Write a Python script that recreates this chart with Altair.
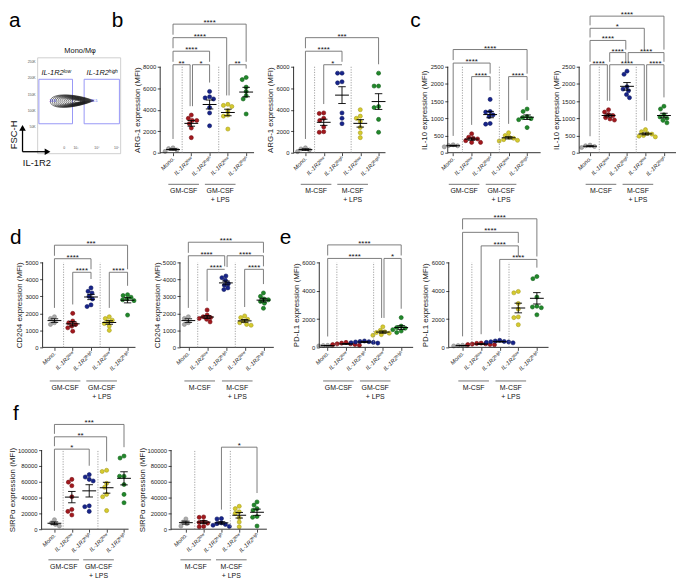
import altair as alt
import pandas as pd

FONT = "Liberation Sans"

# ----------------------------- data ---------------------------------
# group order in every panel: Mono., IL-1R2 low, IL-1R2 high, IL-1R2 low (+LPS), IL-1R2 high (+LPS)
ARG1_GM = [[120, 250, 380, 450],
           [3500, 3200, 3000, 3000, 2700, 2300, 1400],
           [5700, 5200, 5100, 5000, 4200, 3700, 2500],
           [4500, 4400, 4300, 3900, 3500, 3400, 2200],
           [7000, 6800, 6100, 5700, 5300, 5000, 3600]]
ARG1_M = [[100, 250, 350, 450],
          [3700, 3650, 3200, 3000, 2400, 1950, 1900],
          [7400, 7400, 6600, 6500, 3700, 3200, 2700],
          [4000, 3400, 3200, 2900, 2350, 1850, 1400],
          [7400, 6200, 6200, 4300, 4200, 3100, 1900]]
IL10_GM = [[170, 200, 230, 210],
           [550, 450, 420, 400, 350, 300, 300],
           [1550, 1200, 1180, 1100, 1050, 850, 830],
           [580, 500, 450, 420, 380, 360, 340],
           [1270, 1200, 1050, 1020, 990, 960, 730]]
IL10_M = [[150, 180, 220, 200],
          [1250, 1180, 1110, 1080, 1020, 980, 950],
          [2370, 2280, 1920, 1850, 1800, 1690, 1600],
          [670, 610, 560, 540, 500, 480, 460],
          [1350, 1270, 1100, 1040, 1000, 940, 870]]
CD204_GM = [[1800, 1700, 1450, 1350],
            [2000, 1550, 1450, 1350, 1250, 1150, 950],
            [3500, 3300, 3200, 3000, 2850, 2500, 2400],
            [1800, 1700, 1600, 1500, 1400, 1250, 1000],
            [3100, 3050, 2950, 2850, 2800, 2750, 1900]]
CD204_M = [[1800, 1700, 1450, 1350],
           [2200, 1900, 1800, 1750, 1700, 1650, 1500],
           [4200, 4100, 3950, 3750, 3650, 3500, 3400],
           [1850, 1750, 1650, 1550, 1450, 1350, 1300],
           [3200, 3000, 2850, 2800, 2700, 2600, 2300]]
PDL1_GM = [[100, 120, 140, 130],
           [350, 300, 250, 250, 200, 200, 150],
           [450, 420, 400, 380, 350, 330, 300],
           [1450, 1200, 1100, 1050, 1000, 900, 850],
           [2100, 1500, 1400, 1350, 1250, 1150, 1050]]
PDL1_M = [[100, 130, 150, 120],
          [300, 280, 250, 230, 200, 200, 180],
          [500, 450, 420, 400, 380, 350, 320],
          [3950, 3850, 3100, 2700, 2150, 2100, 1600],
          [5000, 4850, 3550, 2900, 2850, 2800, 2300]]
SIRPA_GM = [[12000, 8000, 6000, 4000],
            [63000, 59500, 55000, 41000, 25000, 22500, 18000],
            [69000, 66000, 63000, 61000, 29500, 28500, 22500],
            [74500, 73000, 58000, 53000, 44000, 41000, 23500],
            [92500, 90000, 67000, 67000, 56500, 44000, 33500]]
SIRPA_M = [[13000, 9000, 7000, 4000],
           [15500, 15000, 9500, 8500, 7500, 3500, 3000],
           [13500, 13000, 8000, 7000, 6000, 5000, 3500],
           [29000, 26000, 22000, 20000, 14500, 9000, 3000],
           [34500, 30500, 26000, 24000, 16000, 15000, 4000]]

# significance comparisons: (group a, group b, label, stacking level)
BR_ARG1_GM = [(0, 4, "****", 3), (0, 3, "****", 2), (0, 2, "****", 1),
              (0, 1, "**", 0), (1, 2, "*", 0), (3, 4, "**", 0)]
BR_ARG1_M = [(0, 4, "***", 2), (0, 2, "****", 1), (1, 2, "*", 0)]
BR_IL10_GM = [(0, 4, "****", 2), (0, 2, "****", 1), (1, 2, "****", 0), (3, 4, "****", 0)]
BR_IL10_M = [(0, 4, "****", 4), (0, 3, "*", 3), (0, 2, "****", 2), (1, 2, "****", 1),
             (2, 4, "****", 1), (0, 1, "****", 0), (1, 3, "****", 0), (3, 4, "****", 0)]
BR_CD204_GM = [(0, 4, "***", 2), (0, 2, "****", 1), (1, 2, "****", 0), (3, 4, "****", 0)]
BR_CD204_M = [(0, 4, "****", 2), (0, 2, "****", 1), (2, 4, "****", 1),
              (1, 2, "****", 0), (3, 4, "****", 0)]
BR_PDL1_GM = [(0, 4, "****", 1), (0, 3, "****", 0), (3, 4, "*", 0)]
BR_PDL1_M = [(0, 4, "****", 3), (0, 3, "****", 2), (1, 3, "****", 1), (2, 4, "****", 0)]
BR_SIRPA_GM = [(0, 4, "***", 2), (0, 3, "**", 1), (0, 2, "*", 0)]
BR_SIRPA_M = [(2, 4, "*", 0)]

TICK_LABELS = ["Mono.", "IL-1R2ˡᵒʷ", "IL-1R2ʰⁱᵍʰ", "IL-1R2ˡᵒʷ", "IL-1R2ʰⁱᵍʰ"]
COND_GM = ["GM-CSF", "GM-CSF\n+ LPS"]
COND_M = ["M-CSF", "M-CSF\n+ LPS"]

# flow cytometry panel (a): x = IL-1R2 display channel (0-1000), y = FSC-H (K)
FLOW_GATES_X1 = [15, 560]
FLOW_GATES_X2 = [420, 985]
FLOW_GATE_Y = [60, 197]
FLOW_GATE_NAMES = ["IL-1R2ˡᵒʷ", "IL-1R2ʰⁱᵍʰ"]
FLOW_GATE_PCT = ["24.6", "74.5"]
FLOW_RING_X = [415, 420, 425, 430, 436, 442, 448, 454, 460, 466, 472, 478, 484]
FLOW_RING_W = [44, 41, 38, 35, 32, 29, 26, 23, 20, 17, 14, 11, 7]
FLOW_Y_TICKS = [50, 100, 150, 200, 250]
FLOW_X_TICKS = [321, 461, 714, 952]
FLOW_X_LABELS = ["0", "10³", "10⁴", "10⁵"]

# ----------------------------- style / layout -----------------------
VW, VH = 685, 581
GKEYS = ["g0", "g1", "g2", "g3", "g4"]
FILL = ["#ababab", "#a3181d", "#17248c", "#d6cb2e", "#20892a"]
EDGE = ["#858585", "#741015", "#0e175e", "#a69d1e", "#16611d"]
BR_COLOR = "#6e6e6e"
AX_COLOR = "#1a1a1a"

ROW1 = dict(top=64, bot=151, step=13.7, under=32)
ROW2 = dict(top=262, bot=348, step=13.7, under=34)
ROW3 = dict(top=452, bot=532, step=12.5, under=31)
G = {
    "bL": dict(axis=162, first=175, sp=18.5, end=257, lift=2),
    "bR": dict(axis=297, first=309, sp=18.5, end=390, lift=2),
    "cL": dict(axis=453, first=458.5, sp=18.7, end=547, lift=-10),
    "cR": dict(axis=586, first=597, sp=18.7, end=684, lift=2, step=12.3),
    "dL": dict(axis=43, first=55, sp=18.5, end=137, lift=-10),
    "dR": dict(axis=182, first=190.5, sp=19.0, end=277, lift=-7),
    "eL": dict(axis=323, first=331.5, sp=18.6, end=418, lift=4),
    "eR": dict(axis=454, first=468, sp=18.8, end=555, lift=3),
    "fL": dict(axis=42, first=55, sp=17.6, end=130, lift=1),
    "fR": dict(axis=173, first=188, sp=18.0, end=270, lift=3),
}


def swarm_offsets(vals, py, diam=4.3, step=0.5, maxoff=14.0):
    order = sorted(range(len(vals)), key=lambda i: -vals[i])
    cands = [0.0]
    c = step
    while c <= maxoff:
        cands += [-c, c]
        c += step
    placed, offs = [], [0.0] * len(vals)
    for i in order:
        y = vals[i] * py
        for o in cands:
            if all((o - px) ** 2 + (y - pyy) ** 2 >= diam ** 2 for px, pyy in placed):
                offs[i] = o
                break
        placed.append((offs[i], y))
    return offs


def dot_panel(values, ymax, yticks, ytitle, geo, row, brackets, cond, letter=None):
    sp, first = geo["sp"], geo["first"]
    top, bot = row["top"], row["bot"]
    k = ymax / (bot - top)          # data units per pixel
    py = 1.0 / k
    step = geo.get("step", row["step"])

    rows = []
    for gi, vals in enumerate(values):
        for v, o in zip(vals, swarm_offsets(vals, py)):
            rows.append({"x": gi + o / sp, "y": v, "grp": GKEYS[gi]})
    pts = pd.DataFrame(rows)

    srows = []
    for gi, vals in enumerate(values):
        n = len(vals)
        m = sum(vals) / n
        sd = (sum((v - m) ** 2 for v in vals) / (n - 1)) ** 0.5
        se = sd / n ** 0.5
        srows.append({"g": gi, "m": m, "lo": m - se, "hi": m + se,
                      "ml": gi - 7.0 / sp, "mr": gi + 7.0 / sp,
                      "cl": gi - 3.8 / sp, "cr": gi + 3.8 / sp})
    summ = pd.DataFrame(srows)

    xs = alt.Scale(domain=[-first / sp, (VW - first) / sp], nice=False, zero=False)
    ys = alt.Scale(domain=[-(VH - bot) * k, ymax + top * k], nice=False, zero=False)
    label_expr = "[" + ",".join("'" + t + "'" for t in TICK_LABELS) + "][datum.value]"
    xaxis = alt.Axis(orient="bottom", offset=-(VH - bot), domain=False, values=[0, 1, 2, 3, 4],
                     labelExpr=label_expr, labelAngle=315, labelAlign="right", labelBaseline="middle",
                     labelFontStyle="italic", title=None, labelPadding=1.5,
                     labelOverlap=False, labelFlush=False, labelBound=False)
    tx = -25 if ymax >= 10000 else -19
    yaxis = alt.Axis(orient="left", offset=-geo["axis"], domain=False, values=yticks, title=ytitle,
                     titleX=tx, titleY=(top + bot) / 2, titleAngle=270, titleAlign="center",
                     titleBaseline="bottom", format="d", labelOverlap=False, labelFlush=False,
                     labelBound=False)

    def X(f):
        return alt.X(f, scale=xs, title=None)

    def Y(f):
        return alt.Y(f, scale=ys, title=ytitle)

    layers = []
    layers.append(alt.Chart(pts).mark_circle(size=17, opacity=1, strokeWidth=0.6).encode(
        x=alt.X("x:Q", scale=xs, axis=xaxis),
        y=alt.Y("y:Q", scale=ys, axis=yaxis),
        fill=alt.Fill("grp:N", scale=alt.Scale(domain=GKEYS, range=FILL), legend=None),
        stroke=alt.Stroke("grp:N", scale=alt.Scale(domain=GKEYS, range=EDGE), legend=None)))
    # axis lines of this panel
    xa = (geo["axis"] - first) / sp
    xe = (geo["end"] - first) / sp
    axl = pd.DataFrame({"x": [xa], "x2": [xe], "y0": [0], "y1": [ymax]})
    layers.append(alt.Chart(axl).mark_rule(color=AX_COLOR, strokeWidth=0.9)
                  .encode(x=X("x:Q"), x2="x2:Q", y=Y("y0:Q")))
    layers.append(alt.Chart(axl).mark_rule(color=AX_COLOR, strokeWidth=0.9)
                  .encode(x=X("x:Q"), y=Y("y0:Q"), y2="y1:Q"))
    # dotted separators
    sep = pd.DataFrame({"x": [0.5, 2.5], "y0": [0, 0], "y1": [ymax, ymax]})
    layers.append(alt.Chart(sep).mark_rule(color="#8a8a8a", strokeWidth=0.8, strokeDash=[1.2, 1.4])
                  .encode(x=X("x:Q"), y=Y("y0:Q"), y2="y1:Q"))
    # mean and SEM
    layers.append(alt.Chart(summ).mark_rule(color="black", strokeWidth=1)
                  .encode(x=X("ml:Q"), x2="mr:Q", y=Y("m:Q")))
    layers.append(alt.Chart(summ).mark_rule(color="black", strokeWidth=0.9)
                  .encode(x=X("g:Q"), y=Y("lo:Q"), y2="hi:Q"))
    layers.append(alt.Chart(summ).mark_rule(color="black", strokeWidth=0.9)
                  .encode(x=X("cl:Q"), x2="cr:Q", y=Y("lo:Q")))
    layers.append(alt.Chart(summ).mark_rule(color="black", strokeWidth=0.9)
                  .encode(x=X("cl:Q"), x2="cr:Q", y=Y("hi:Q")))

    # significance brackets
    delta = 1.2 / sp
    geoms = []
    for (a, b, lab, lev) in brackets:
        xl = a + (delta if any(bb[1] == a for bb in brackets) else 0.0)
        xr = b - (delta if any(bb[0] == b for bb in brackets) else 0.0)
        yv = ymax + (geo["lift"] + lev * step) * k
        geoms.append((xl, xr, yv, lev, a, b, lab))
    hrows, lrows, trows = [], [], []
    for (xl, xr, yv, lev, a, b, lab) in geoms:
        hrows.append({"x": xl, "x2": xr, "y": yv})
        trows.append({"x": (xl + xr) / 2, "y": yv, "t": lab})
        for xx, gg in ((xl, a), (xr, b)):
            bottom = max(values[gg]) + 9 * k
            for (xl2, xr2, yv2, lev2, *_rest) in geoms:
                if lev2 < lev and xl2 - 1e-9 <= xx <= xr2 + 1e-9:
                    bottom = max(bottom, yv2 + 3 * k)
            bottom = min(bottom, yv)
            lrows.append({"x": xx, "y": yv, "y2": bottom})
    layers.append(alt.Chart(pd.DataFrame(hrows)).mark_rule(color=BR_COLOR, strokeWidth=0.9)
                  .encode(x=X("x:Q"), x2="x2:Q", y=Y("y:Q")))
    layers.append(alt.Chart(pd.DataFrame(lrows)).mark_rule(color=BR_COLOR, strokeWidth=0.9)
                  .encode(x=X("x:Q"), y=Y("y:Q"), y2="y2:Q"))
    layers.append(alt.Chart(pd.DataFrame(trows)).mark_text(fontSize=8, dy=1, baseline="alphabetic",
                                                           color="#111")
                  .encode(x=X("x:Q"), y=Y("y:Q"), text="t:N"))

    # culture-condition group labels
    shift = 17.0 / sp
    half = 15.5 / sp
    grp = pd.DataFrame({"xc": [1.5 - shift, 3.5 - shift],
                        "x1": [1.5 - shift - half, 3.5 - shift - half],
                        "x2": [1.5 - shift + half, 3.5 - shift + half],
                        "t": cond})
    uy = bot + row["under"]
    layers.append(alt.Chart(grp).mark_rule(color="#666", strokeWidth=0.9)
                  .encode(x=X("x1:Q"), x2="x2:Q", y=alt.value(uy)))
    layers.append(alt.Chart(grp).mark_text(fontSize=7, baseline="top", lineBreak="\n", lineHeight=9,
                                           color="#111")
                  .encode(x=X("xc:Q"), y=alt.value(uy + 3), text="t:N"))
    if letter is not None:
        layers.append(alt.Chart(pd.DataFrame({"t": [letter[0]]}))
                      .mark_text(fontSize=21, align="left", baseline="alphabetic", color="black")
                      .encode(text="t:N", x=alt.value(letter[1]), y=alt.value(letter[2])))
    return alt.layer(*layers)


BLOB = "M-1,0 C-1,-0.44 0.25,-0.34 1,-0.03 C0.25,0.3 -1,0.44 -1,0 Z"


def flow_panel():
    # frame spans page x 38..122 (channel 0..1000) and FSC-H: 250K at y 59.3, 0.3285 px per K
    xs = alt.Scale(domain=[-38 / 0.084, (VW - 38) / 0.084], nice=False, zero=False)
    ys = alt.Scale(domain=[250 - (VH - 59.3) / 0.3285, 250 + 59.3 / 0.3285], nice=False, zero=False)

    def X(f):
        return alt.X(f, scale=xs, axis=None)

    def Y(f):
        return alt.Y(f, scale=ys, axis=None)

    L = []
    frame = pd.DataFrame({"x1": [0], "x2": [1000], "y1": [-32.2], "y2": [263.1]})
    L.append(alt.Chart(frame).mark_rect(fillOpacity=0, stroke="#c4c4c4", strokeWidth=0.8)
             .encode(x=X("x1:Q"), x2="x2:Q", y=Y("y1:Q"), y2="y2:Q"))
    gates = pd.DataFrame({"x1": FLOW_GATES_X1, "x2": FLOW_GATES_X2,
                          "y1": [FLOW_GATE_Y[0]] * 2, "y2": [FLOW_GATE_Y[1]] * 2,
                          "name": FLOW_GATE_NAMES, "pct": FLOW_GATE_PCT,
                          "nx": [x + 30 for x in FLOW_GATES_X1], "ny": [211, 211],
                          "px": [182, 679], "py": [129, 129]})
    L.append(alt.Chart(gates).mark_rect(fillOpacity=0, stroke="#8c8cf5", strokeWidth=0.9)
             .encode(x=X("x1:Q"), x2="x2:Q", y=Y("y1:Q"), y2="y2:Q"))
    rings = pd.DataFrame({"x": FLOW_RING_X, "y": [129] * len(FLOW_RING_X),
                          "s": [w * w for w in FLOW_RING_W]})
    L.append(alt.Chart(rings).mark_point(shape=BLOB, filled=False, color="#111", strokeWidth=0.6,
                                         opacity=1)
             .encode(x=X("x:Q"), y=Y("y:Q"), size=alt.Size("s:Q", scale=None, legend=None)))
    L.append(alt.Chart(gates).mark_text(fontSize=7.5, fontStyle="italic", align="left",
                                        baseline="alphabetic", color="#111")
             .encode(x=X("nx:Q"), y=Y("ny:Q"), text="name:N"))
    L.append(alt.Chart(gates).mark_text(fontSize=3.5, color="#4a4af0")
             .encode(x=X("px:Q"), y=Y("py:Q"), text="pct:N"))
    yt = pd.DataFrame({"y": FLOW_Y_TICKS, "t": [f"{v}K" for v in FLOW_Y_TICKS]})
    L.append(alt.Chart(yt).mark_text(fontSize=3.5, align="right", color="#555")
             .encode(x=alt.value(36), y=Y("y:Q"), text="t:N"))
    xt = pd.DataFrame({"x": FLOW_X_TICKS, "y": [-16] * 4, "t": FLOW_X_LABELS})
    L.append(alt.Chart(xt).mark_text(fontSize=3.5, color="#555")
             .encode(x=X("x:Q"), y=Y("y:Q"), text="t:N"))
    one = pd.DataFrame({"a": [0]})
    L.append(alt.Chart(one).mark_rule(color="black", strokeWidth=1.3)
             .encode(x=alt.value(22.7), y=alt.value(150), y2=alt.value(126)))
    L.append(alt.Chart(one).mark_rule(color="black", strokeWidth=1.3)
             .encode(x=alt.value(22.7), x2=alt.value(46), y=alt.value(150)))
    L.append(alt.Chart(one).mark_point(shape="triangle-up", filled=True,
                                       color="black", size=45, opacity=1)
             .encode(x=alt.value(22.7), y=alt.value(126)))
    L.append(alt.Chart(one).mark_point(shape="triangle-right", filled=True,
                                       color="black", size=45, opacity=1)
             .encode(x=alt.value(48), y=alt.value(150)))
    L.append(alt.Chart(pd.DataFrame({"t": ["FSC-H"]})).mark_text(fontSize=9.5, angle=270,
                                                                 color="#111")
             .encode(x=alt.value(14), y=alt.value(133), text="t:N"))
    L.append(alt.Chart(pd.DataFrame({"t": ["IL-1R2"]})).mark_text(fontSize=9.5, align="left",
                                                                  color="#111")
             .encode(x=alt.value(23), y=alt.value(161), text="t:N"))
    L.append(alt.Chart(pd.DataFrame({"t": ["Mono/Mφ"]})).mark_text(fontSize=7.5, color="#111")
             .encode(x=alt.value(81), y=alt.value(48), text="t:N"))
    L.append(alt.Chart(pd.DataFrame({"t": ["a"]})).mark_text(fontSize=21, align="left",
                                                             baseline="alphabetic", color="black")
             .encode(x=alt.value(9), y=alt.value(24), text="t:N"))
    return alt.layer(*L)


bL = dot_panel(ARG1_GM, 8000, [0, 2000, 4000, 6000, 8000], "ARG-1 expression (MFI)", G["bL"], ROW1,
               BR_ARG1_GM, COND_GM, ("b", 113, 24))
bR = dot_panel(ARG1_M, 8000, [0, 2000, 4000, 6000, 8000], "ARG-1 expression (MFI)", G["bR"], ROW1,
               BR_ARG1_M, COND_M)
cL = dot_panel(IL10_GM, 2500, [0, 500, 1000, 1500, 2000, 2500], "IL-10 expression (MFI)", G["cL"], ROW1,
               BR_IL10_GM, COND_GM, ("c", 415, 24))
cR = dot_panel(IL10_M, 2500, [0, 500, 1000, 1500, 2000, 2500], "IL-10 expression (MFI)", G["cR"], ROW1,
               BR_IL10_M, COND_M)
dL = dot_panel(CD204_GM, 5000, [0, 1000, 2000, 3000, 4000, 5000], "CD204 expression (MFI)", G["dL"], ROW2,
               BR_CD204_GM, COND_GM, ("d", 10, 243))
dR = dot_panel(CD204_M, 5000, [0, 1000, 2000, 3000, 4000, 5000], "CD204 expression (MFI)", G["dR"], ROW2,
               BR_CD204_M, COND_M)
eL = dot_panel(PDL1_GM, 6000, [0, 2000, 4000, 6000], "PD-L1 expression (MFI)", G["eL"], ROW2,
               BR_PDL1_GM, COND_GM, ("e", 283, 243))
eR = dot_panel(PDL1_M, 6000, [0, 2000, 4000, 6000], "PD-L1 expression (MFI)", G["eR"], ROW2,
               BR_PDL1_M, COND_M)
fL = dot_panel(SIRPA_GM, 100000, [0, 20000, 40000, 60000, 80000, 100000], "SIRPα expression (MFI)", G["fL"],
               ROW3, BR_SIRPA_GM, COND_GM, ("f", 13, 422))
fR = dot_panel(SIRPA_M, 100000, [0, 20000, 40000, 60000, 80000, 100000], "SIRPα expression (MFI)", G["fR"],
               ROW3, BR_SIRPA_M, COND_M)

chart = (alt.layer(flow_panel(), bL, bR, cL, cR, dL, dR, eL, eR, fL, fR)
         .resolve_scale(x="independent", y="independent")
         .resolve_axis(x="independent", y="independent")
         .properties(width=VW, height=VH,
                     autosize=alt.AutoSizeParams(type="none"),
                     padding={"left": -8, "top": -8, "right": 0, "bottom": 0})
         .configure(font=FONT)
         .configure_view(stroke=None)
         .configure_axis(labelFont=FONT, titleFont=FONT, labelFontSize=6, titleFontSize=8,
                         titleFontWeight="normal", labelColor=AX_COLOR, titleColor=AX_COLOR,
                         tickColor=AX_COLOR, tickSize=3, tickWidth=0.8, grid=False,
                         labelPadding=1.5, titlePadding=2))

chart.save("out.html", embed_options={"renderer": "svg", "actions": False})
